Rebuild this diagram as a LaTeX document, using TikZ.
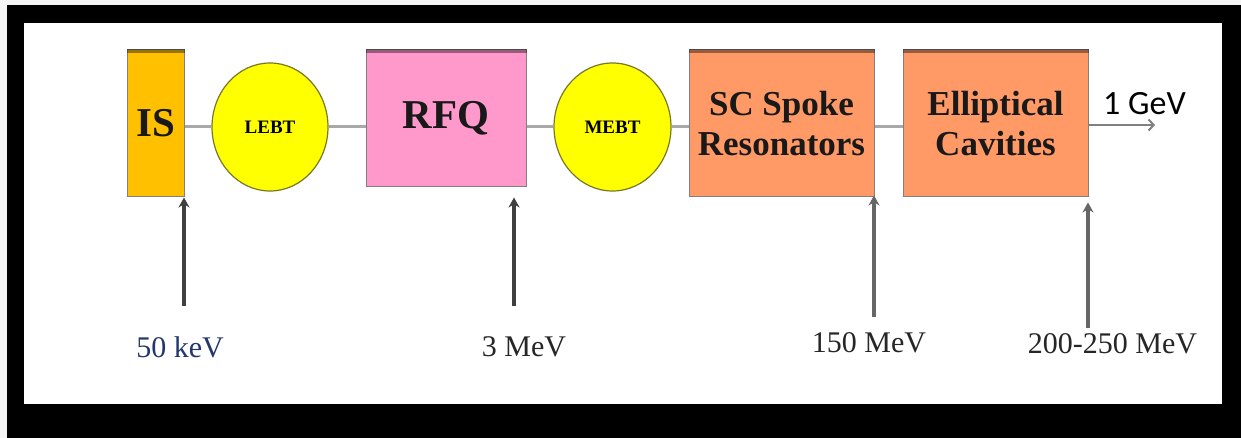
\documentclass[tikz,border=0pt]{standalone}
\usepackage{fontspec}
\setmainfont{Liberation Serif}
\newfontfamily\gevfont{Carlito}
\usetikzlibrary{arrows.meta,shapes.geometric}

\definecolor{isorange}{RGB}{255,192,0}
\definecolor{rfqpink}{RGB}{255,153,204}
\definecolor{cavorange}{RGB}{255,153,102}
\definecolor{bunchyellow}{RGB}{255,255,0}
\definecolor{bunchrim}{RGB}{120,120,40}
\definecolor{pipegrey}{RGB}{168,168,168}
\definecolor{kevblue}{RGB}{35,55,110}

\begin{document}
\begin{tikzpicture}[x=1pt,y=-1pt]
\tikzset{
  block/.style={rectangle,draw=black!50,line width=1pt,inner sep=0pt,align=center,text=black!90},
  transport/.style={ellipse,draw=bunchrim,line width=1.2pt,fill=bunchyellow,minimum width=116pt,minimum height=128pt,inner sep=0pt,font=\bfseries\fontsize{19}{19}\selectfont},
  topband/.style={line width=4pt,draw=black,opacity=0.4},
  beampipe/.style={line width=3pt,draw=pipegrey},
  beamout/.style={-{Straight Barb[length=5pt,width=11pt,line width=2pt]},line width=2.5pt,draw=black!50},
  energy/.style={-{Stealth[length=10pt,width=11pt]},line width=4.5pt,draw=black!75},
  energythin/.style={energy,line width=3.5pt,draw=black!60},
  energylabel/.style={anchor=base,inner sep=0pt,font=\fontsize{30}{30}\selectfont,text=black!85}
}
\useasboundingbox (0,0) rectangle (1241,438);
\fill[black!4] (0,0) rectangle (1241,438);
\fill[black] (7,5) rectangle (1241,438);
\fill[white] (24,23) rectangle (1222,404);

\node[block,fill=isorange,minimum width=57pt,minimum height=147pt,font=\bfseries\fontsize{41}{41}\selectfont] (n_is) at (155.5,123.5) {IS};
\node[transport] (n_lebt) at (270,127) {LEBT};
\node[block,fill=rfqpink,minimum width=160pt,minimum height=137pt,font=\bfseries\fontsize{41}{41}\selectfont] (n_rfq) at (446,118.5) {RFQ};
\node[transport,minimum width=117pt] (n_mebt) at (612.5,127) {MEBT};
\node[block,fill=cavorange,minimum width=185pt,minimum height=147pt,font=\bfseries\fontsize{35}{40}\selectfont] (n_sc) at (781.5,123.5) {SC Spoke\\Resonators};
\node[block,fill=cavorange,minimum width=185pt,minimum height=147pt,font=\bfseries\fontsize{35}{40}\selectfont] (n_ell) at (995.5,123.5) {Elliptical\\Cavities};

\foreach \b in {n_is,n_rfq,n_sc,n_ell}
  \draw[topband] ([yshift=-2pt]\b.north west) -- ([yshift=-2pt]\b.north east);

\draw[beampipe] (n_is.east |- n_lebt.west) -- (n_lebt.west);
\draw[beampipe] (n_lebt.east) -- (n_rfq.west |- n_lebt.east);
\draw[beampipe] (n_rfq.east |- n_mebt.west) -- (n_mebt.west);
\draw[beampipe] (n_mebt.east) -- (n_sc.west |- n_mebt.east);
\draw[beampipe] (n_sc.east |- n_mebt) -- (n_ell.west |- n_mebt);

\coordinate (c_out) at (1155,125);
\draw[beamout] (n_ell.east |- c_out) -- (c_out);
\node[anchor=base west,inner sep=0pt,font=\gevfont\fontsize{34}{34}\selectfont] (n_gev) at (1103,115) {1 GeV};

\coordinate (c_kev50) at (184,306);
\coordinate (c_mev3) at (514,306);
\coordinate (c_mev150) at (874,317);
\coordinate (c_mev200) at (1088,328);
\draw[energy] (c_kev50) -- (c_kev50 |- n_is.south);
\draw[energy] (c_mev3) -- (c_mev3 |- n_is.south);
\draw[energythin] (c_mev150) -- ([yshift=2pt]c_mev150 |- n_sc.south);
\draw[energythin] (c_mev200) -- ([yshift=-5pt]c_mev200 |- n_ell.south);

\node[energylabel,text=kevblue] (n_kev50) at (180,357) {50 keV};
\node[energylabel] (n_mev3) at (524,356) {3 MeV};
\node[energylabel] (n_mev150) at (869,352) {150 MeV};
\node[energylabel] (n_mev200) at (1112.5,353) {200-250 MeV};
\end{tikzpicture}
\end{document}
